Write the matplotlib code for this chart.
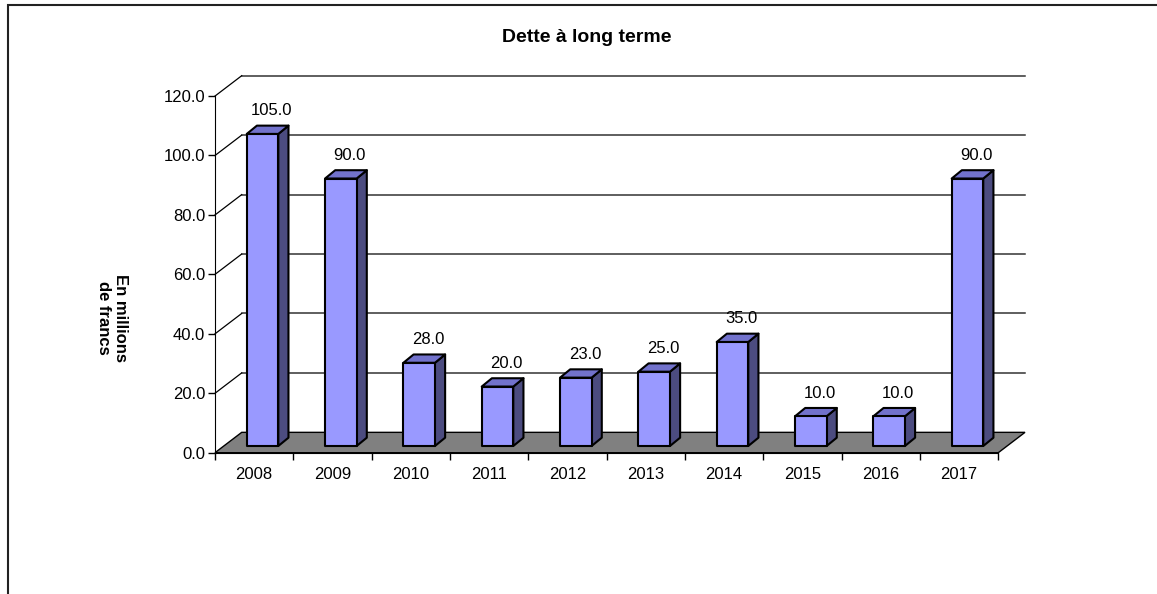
import matplotlib
matplotlib.use('Agg')
import matplotlib.pyplot as plt
from matplotlib.patches import Polygon, Rectangle

plt.rcParams['font.family'] = ['Liberation Sans', 'DejaVu Sans']

years = ['2008', '2009', '2010', '2011', '2012', '2013', '2014', '2015', '2016', '2017']
dette = [105.0, 90.0, 28.0, 20.0, 23.0, 25.0, 35.0, 10.0, 10.0, 90.0]
y_ticks = [0, 20, 40, 60, 80, 100, 120]

# fake 3d: depth offset of the back wall, in data units
DX, DY = 0.341, 6.85
# bar placement inside the depth
BX0, BY0 = 0.113, 2.25
BDX, BDY = 0.13, 2.8
BAR_LEFT, BAR_W = 0.405, 0.403

FRONT = '#9999FF'
TOP = '#7272CC'
SIDE = '#4C4C80'
FLOOR = '#808080'

fig = plt.figure(figsize=(11.57, 5.94), dpi=100)
ax = fig.add_axes([215 / 1157, 1 - 452.7 / 594, 810 / 1157, 377 / 594])
n = len(years)
ax.set_xlim(0, n + DX)
ax.set_ylim(0, 120 + DY)
ax.patch.set_visible(False)

# back wall grid + left wall diagonals
for t in y_ticks[1:]:
    ax.plot([DX, n + DX], [t + DY, t + DY], color='#333333', lw=1.1, zorder=1, clip_on=False)
    ax.plot([0, DX], [t, t + DY], color='black', lw=0.9, zorder=1, clip_on=False)

# floor
floor = Polygon([(0, 0), (n, 0), (n + DX, DY), (DX, DY)], closed=True,
                facecolor=FLOOR, edgecolor='black', lw=1.0, zorder=2, clip_on=False)
ax.add_patch(floor)

# bars
for i, v in enumerate(dette):
    x0 = i + BAR_LEFT
    x1 = x0 + BAR_W
    y0 = BY0
    y1 = v + BY0
    side = Polygon([(x1, y0), (x1 + BDX, y0 + BDY), (x1 + BDX, y1 + BDY), (x1, y1)],
                   closed=True, facecolor=SIDE, edgecolor='black', lw=1.5, zorder=3,
                   joinstyle='round')
    top = Polygon([(x0, y1), (x1, y1), (x1 + BDX, y1 + BDY), (x0 + BDX, y1 + BDY)],
                  closed=True, facecolor=TOP, edgecolor='black', lw=1.5, zorder=3,
                  joinstyle='round')
    front = Rectangle((x0, y0), BAR_W, v, facecolor=FRONT, edgecolor='black', lw=1.5,
                      zorder=4, joinstyle='round')
    ax.add_patch(side)
    ax.add_patch(top)
    ax.add_patch(front)
    ax.text(x0 + BAR_W / 2 + 0.115, y1 + BDY + 5.0, '%.1f' % v, ha='center', va='center',
            fontsize=12, zorder=5)

# axes
for s in ['top', 'right']:
    ax.spines[s].set_visible(False)
ax.spines['left'].set_bounds(0, 120)
ax.spines['bottom'].set_bounds(0, n)
ax.spines['left'].set_zorder(6)
ax.spines['bottom'].set_zorder(6)
ax.set_yticks(y_ticks)
ax.set_yticklabels(['%.1f' % t for t in y_ticks], fontsize=12)
ax.tick_params(axis='y', length=5, width=1, pad=2)
ax.set_xticks(range(n + 1))
ax.set_xticklabels([])
ax.set_xticks([i + 0.5 for i in range(n)], minor=True)
ax.set_xticklabels(years, minor=True, fontsize=12)
ax.tick_params(axis='x', which='major', length=5, width=1)
ax.tick_params(axis='x', which='minor', length=0, pad=10)

fig.text(587 / 1157, 1 - 37 / 594, 'Dette à long terme', ha='center', va='center',
         fontsize=14, fontweight='bold')
fig.text(112 / 1157, 1 - 318 / 594, 'En millions\nde francs', ha='center', va='center',
         rotation=-90, fontsize=12, fontweight='bold', multialignment='center')

# chart area border (runs off right and bottom)
fig.add_artist(Rectangle((8 / 1157, -0.1), 1.2, 1 - 5 / 594 + 0.1, transform=fig.transFigure,
                         fill=False, edgecolor='#222222', lw=1.5))

fig.savefig('out.png', dpi=100)
